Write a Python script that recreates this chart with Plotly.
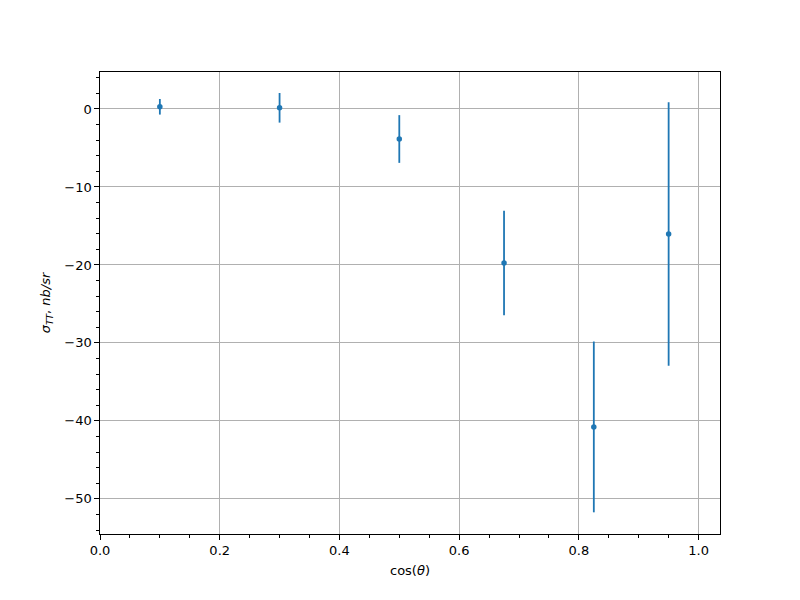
import plotly.graph_objects as go

cos_theta = [0.1, 0.3, 0.5, 0.675, 0.825, 0.95]
sigma_tt = [0.28, 0.15, -3.85, -19.74, -40.77, -16.03]
sigma_err = [1.0, 1.9, 3.06, 6.7, 10.95, 16.9]

x_ticks = [0.0, 0.2, 0.4, 0.6, 0.8, 1.0]
y_ticks = [0, -10, -20, -30, -40, -50]

blue = "#1f77b4"
font = "DejaVu Sans, Liberation Sans, sans-serif"

fig = go.Figure()
fig.add_trace(go.Scatter(
    x=cos_theta, y=sigma_tt, mode="markers",
    marker=dict(color=blue, size=5.5, line=dict(width=0)),
    error_y=dict(type="data", array=sigma_err, visible=True,
                 color=blue, thickness=1.8, width=0),
    showlegend=False,
))

axis_common = dict(
    showline=True, linecolor="black", linewidth=1, mirror=True,
    ticks="outside", ticklen=4.7, tickwidth=1, tickcolor="black",
    showgrid=True, gridcolor="#b0b0b0", gridwidth=1,
    zeroline=False, automargin=False,
    tickfont=dict(family=font, size=13, color="black"),
)

fig.update_layout(
    width=800, height=600,
    paper_bgcolor="white", plot_bgcolor="white",
    margin=dict(l=92, r=88, t=64, b=74),
    font=dict(family=font, size=13, color="black"),
    xaxis=dict(
        range=[0, 1.0358], tickvals=x_ticks, tickformat=".1f",
        minor=dict(dtick=0.05, tick0=0, ticks="outside", ticklen=2.7,
                   tickcolor="black", showgrid=False),
        title=dict(text="cos(<i>θ</i>)", font=dict(family=font, size=13), standoff=8),
        **axis_common,
    ),
    yaxis=dict(
        range=[-54.5, 4.74], tickvals=y_ticks,
        minor=dict(dtick=2, tick0=0, ticks="outside", ticklen=2.7,
                   tickcolor="black", showgrid=False),
        title=dict(text="<i>σ</i><sub><i>TT</i></sub>, <i>nb/sr</i>",
                   font=dict(family=font, size=13), standoff=10),
        **axis_common,
    ),
)

fig.write_html("out.html")
